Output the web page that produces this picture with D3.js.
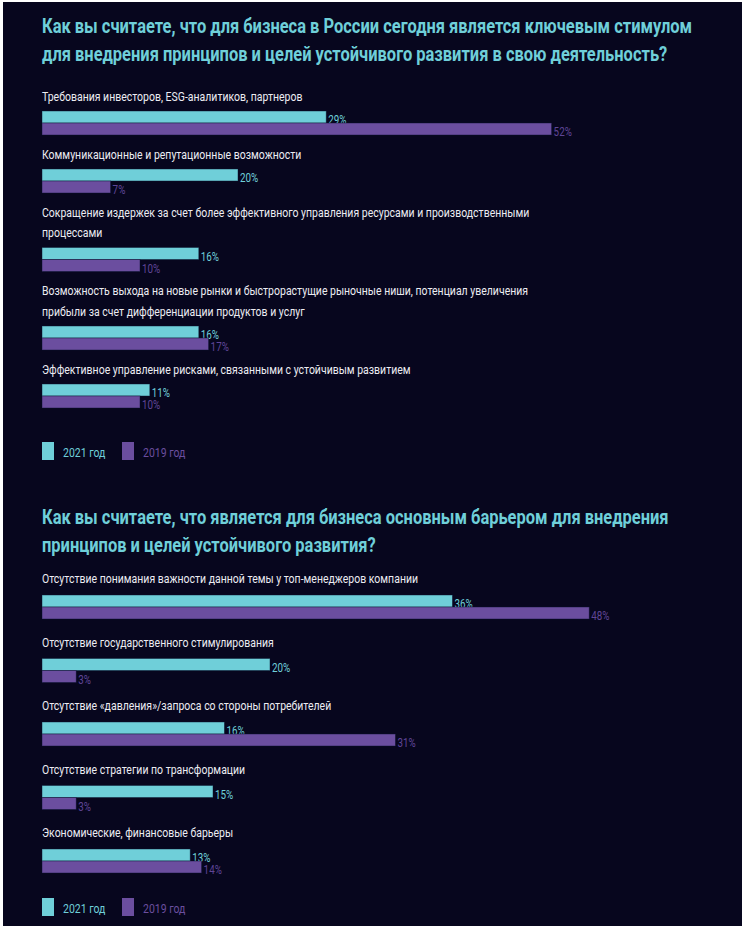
<!DOCTYPE html>
<html><head><meta charset="utf-8">
<script src="https://cdn.jsdelivr.net/npm/d3@7/dist/d3.min.js"></script>
<style>
html,body{margin:0;padding:0;background:#ffffff;}
svg{display:block;}
</style></head>
<body>
<svg id="chart" width="742" height="926"></svg>
<script>
// ---------- DATA ----------
const seriesNames = ["2021 год", "2019 год"];

const title1 = [
  "Как вы считаете, что для бизнеса в России сегодня является ключевым стимулом",
  "для внедрения принципов и целей устойчивого развития в свою деятельность?"
];
const categories1 = [
  ["Требования инвесторов, ESG-аналитиков, партнеров"],
  ["Коммуникационные и репутационные возможности"],
  ["Сокращение издержек за счет более эффективного управления ресурсами и производственными", "процессами"],
  ["Возможность выхода на новые рынки и быстрорастущие рыночные ниши, потенциал увеличения", "прибыли за счет дифференциации продуктов и услуг"],
  ["Эффективное управление рисками, связанными с устойчивым развитием"]
];
const values2021_q1 = [29, 20, 16, 16, 11];
const values2019_q1 = [52, 7, 10, 17, 10];

const title2 = [
  "Как вы считаете, что является для бизнеса основным барьером для внедрения",
  "принципов и целей устойчивого развития?"
];
const categories2 = [
  ["Отсутствие понимания важности данной темы у топ-менеджеров компании"],
  ["Отсутствие государственного стимулирования"],
  ["Отсутствие «давления»/запроса со стороны потребителей"],
  ["Отсутствие стратегии по трансформации"],
  ["Экономические, финансовые барьеры"]
];
const values2021_q2 = [36, 20, 16, 15, 13];
const values2019_q2 = [48, 3, 31, 3, 14];

// ---------- STYLE / LAYOUT ----------
const W = 742, H = 926;
const BG = "#07061e";
const CYAN = "#6fcfd9";
const PURPLE = "#6b4e9f";
const PURPLE_TXT = "#5f4596";
const LABEL_COL = "#ececf2";
const FONT = "Roboto, 'Open Sans', sans-serif";
const SX_LABEL = 0.84, SX_TITLE = 0.785, SX_VAL = 0.82;

const svg = d3.select("#chart");
svg.append("rect").attr("x", 3).attr("y", 2).attr("width", W - 3).attr("height", H - 2).attr("fill", BG);

function condensedText(parent, x, y, txt, opts) {
  const g = parent.append("g").attr("transform", `translate(${x},${y}) scale(${opts.sx},1)`);
  g.append("text")
    .attr("x", 0).attr("y", 0)
    .attr("font-family", FONT)
    .attr("font-size", opts.size)
    .attr("font-weight", opts.weight || 400)
    .attr("fill", opts.fill)
    .text(txt);
  return g;
}

function drawChart(cfg) {
  const root = svg.append("g");
  const x = d3.scaleLinear().domain([0, cfg.maxVal]).range([cfg.left, cfg.left + cfg.maxVal * cfg.pxPer]);

  // title
  cfg.title.forEach((line, i) => {
    condensedText(root, cfg.left, cfg.titleY + i * cfg.titleLH, line,
      { sx: SX_TITLE, size: 21, weight: 700, fill: CYAN });
  });

  // rows laid out cumulatively
  const barH = 12;
  let baseline = cfg.firstBaseline;
  cfg.categories.forEach((lines, i) => {
    lines.forEach((ln, j) => {
      condensedText(root, cfg.left, baseline + j * cfg.lineH, ln,
        { sx: SX_LABEL, size: 12.5, fill: LABEL_COL });
    });
    const lastBase = baseline + (lines.length - 1) * cfg.lineH;
    const top = lastBase + cfg.gapLabelBar;
    const series = [
      { v: cfg.v2021[i], fill: CYAN, txt: CYAN, y: top },
      { v: cfg.v2019[i], fill: PURPLE, txt: PURPLE_TXT, y: top + barH }
    ];
    series.forEach(s => {
      root.append("rect")
        .attr("x", x(0)).attr("y", s.y)
        .attr("width", x(s.v) - x(0)).attr("height", barH)
        .attr("fill", s.fill)
        .attr("stroke", "rgba(10,20,50,0.55)").attr("stroke-width", 0.8);
      condensedText(root, x(s.v) + 2, s.y + barH + 1, s.v + "%",
        { sx: SX_VAL, size: 12, fill: s.txt });
    });
    baseline = top + 2 * barH + cfg.gapBarLabel;
  });

  // legend
  const leg = [
    { name: seriesNames[0], fill: CYAN, txt: CYAN },
    { name: seriesNames[1], fill: PURPLE, txt: PURPLE }
  ];
  leg.forEach((l, i) => {
    const lx = cfg.left + i * 80;
    root.append("rect").attr("x", lx).attr("y", cfg.legendY).attr("width", 12).attr("height", 18).attr("fill", l.fill);
    condensedText(root, lx + 21, cfg.legendY + 15, l.name, { sx: SX_LABEL, size: 12.5, fill: l.txt });
  });
}

drawChart({
  title: title1, categories: categories1, v2021: values2021_q1, v2019: values2019_q1,
  maxVal: 52, pxPer: 9.8, left: 42,
  titleY: 33, titleLH: 28,
  firstBaseline: 100.5, lineH: 20.5, gapLabelBar: 10.5, gapBarLabel: 23.5,
  legendY: 442
});

drawChart({
  title: title2, categories: categories2, v2021: values2021_q2, v2019: values2019_q2,
  maxVal: 48, pxPer: 11.4, left: 42,
  titleY: 524, titleLH: 28,
  firstBaseline: 583, lineH: 20.5, gapLabelBar: 12, gapBarLabel: 27.5,
  legendY: 898
});
</script>
</body></html>
